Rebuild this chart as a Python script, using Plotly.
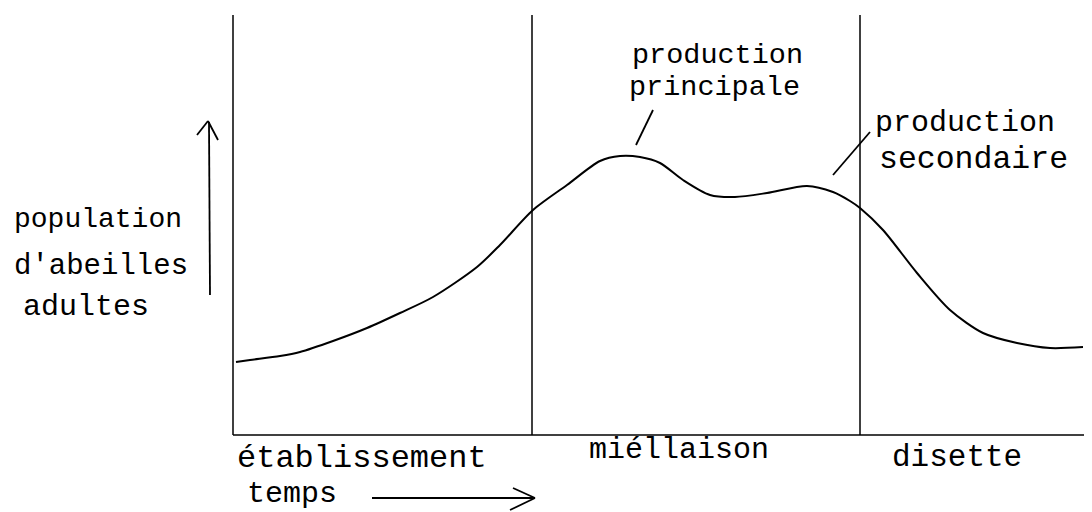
import plotly.graph_objects as go

# ---- data (arbitrary units: time from start of season, adult bee population) ----
time = [3, 17, 47, 67, 100, 134, 167, 200, 244, 267, 300, 334, 367, 387, 407,
        427, 450, 477, 502, 534, 574, 600, 617, 627, 650, 684, 717, 750, 784,
        817, 850]
population = [73, 75, 79, 83, 94, 107, 122, 138, 168, 190, 225, 250, 274, 279,
              278, 272, 255, 240, 238, 242, 249, 243, 234, 227, 205, 162, 125,
              102, 92, 87, 88]

phase_bounds = [0, 299, 627]          # start of établissement / miéllaison / disette
phase_labels = ["établissement", "miéllaison", "disette"]
axis_top = 420
axis_end = 859

y_label = ["population", "d'abeilles", "adultes"]
x_label = "temps"
peak_labels = [["production", "principale"], ["production", "secondaire"]]

FONT = "Liberation Mono"
INK = "black"

fig = go.Figure()

# curve
fig.add_trace(go.Scatter(x=time, y=population, mode="lines",
                         line=dict(color=INK, width=2, shape="spline", smoothing=0.8),
                         hoverinfo="skip", showlegend=False))

# phase boundaries
for b in phase_bounds:
    fig.add_trace(go.Scatter(x=[b, b], y=[0, axis_top], mode="lines",
                             line=dict(color=INK, width=1.5),
                             hoverinfo="skip", showlegend=False))
# baseline
fig.add_trace(go.Scatter(x=[phase_bounds[0], axis_end], y=[0, 0], mode="lines",
                         line=dict(color=INK, width=1.5),
                         hoverinfo="skip", showlegend=False))

shapes = []
def seg(x0, y0, x1, y1, w=1.8):
    shapes.append(dict(type="line", xref="x", yref="y", x0=x0, y0=y0, x1=x1, y1=y1,
                       line=dict(color=INK, width=w)))

# vertical (population) arrow
seg(-23, 140, -24, 313)
seg(-36, 300, -25, 314)
seg(-25, 314, -15, 295)
# time arrow
seg(139, -63, 302, -63)
seg(280, -53, 302, -63)
seg(302, -63, 277, -75)
# leader lines
seg(420, 325, 403, 290)
seg(637, 303, 600, 260)

ann = []
def txt(s, x, y, size):
    ann.append(dict(text=s, x=x, y=y, xref="x", yref="y", xanchor="left",
                    yanchor="middle", showarrow=False,
                    font=dict(family=FONT, size=size, color=INK)))

# y-axis label (x in time units, y in population units)
txt(y_label[0], -221, 435 - 219, 28)
txt(y_label[1], -221, 435 - 266, 29)
txt(y_label[2], -212, 435 - 307, 30)
# phase labels
txt(phase_labels[0], 2, 435 - 458, 32)
txt(phase_labels[1], 354, 435 - 450, 30)
txt(phase_labels[2], 657, 435 - 457, 31)
txt(x_label, 12, 435 - 494, 30)
# peak labels
txt(peak_labels[0][0], 397, 435 - 55, 28.5)
txt(peak_labels[0][1], 394, 435 - 87, 28.5)
txt(peak_labels[1][0], 640, 435 - 123, 30)
txt(peak_labels[1][1], 644, 435 - 159, 31.5)

# page body has an 8px margin: size the figure so it fits the window exactly
fig.update_layout(
    width=1084, height=504,
    margin=dict(l=0, r=0, t=0, b=0),
    paper_bgcolor="white", plot_bgcolor="white",
    xaxis=dict(range=[-225, 859], visible=False, fixedrange=True),
    yaxis=dict(range=[-77, 427], visible=False, fixedrange=True),
    shapes=shapes, annotations=ann, showlegend=False,
)

fig.write_html("out.html")
